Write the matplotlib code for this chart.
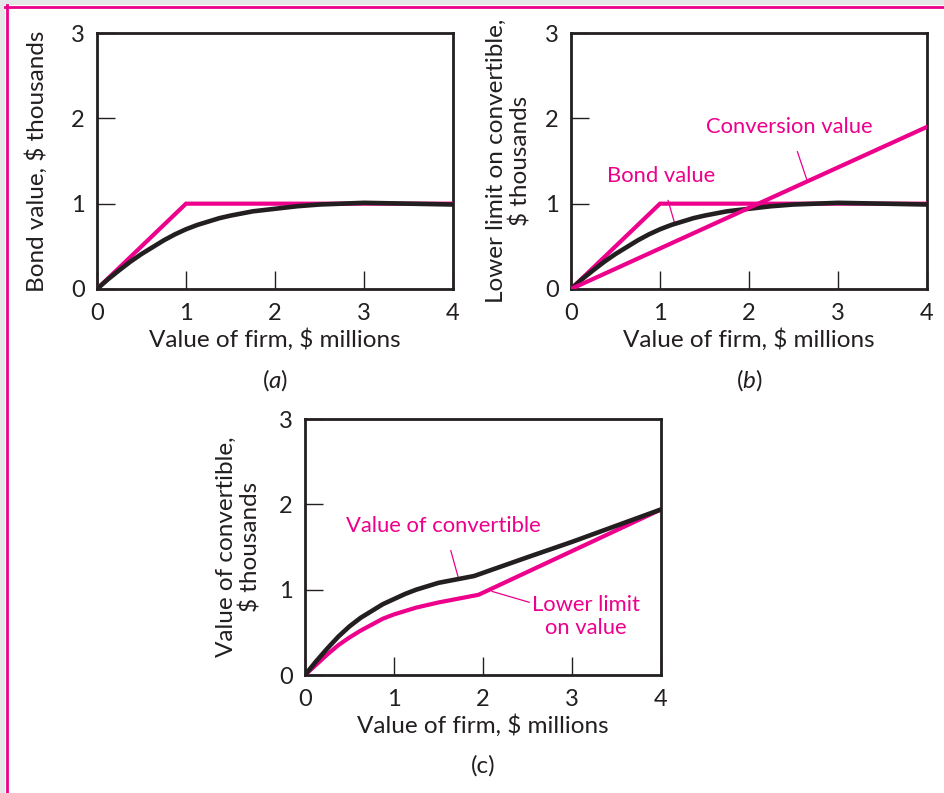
import matplotlib
matplotlib.use("Agg")
import matplotlib.pyplot as plt
from matplotlib.patches import Rectangle
from matplotlib.lines import Line2D

plt.rcParams["font.family"] = ["Lato", "DejaVu Sans"]
plt.rcParams["mathtext.fontset"] = "custom"
plt.rcParams["mathtext.rm"] = "Lato"
plt.rcParams["mathtext.it"] = "Lato:italic"

PINK = "#EC008C"
INK = "#231F20"
FS = 17.5      # axis labels
FS_TICK = 17
FS_NOTE = 15.8  # pink annotations

# ---- data ----
# bond value curve, panels (a) and (b)
bond_x = [0, 0.125, 0.25, 0.375, 0.5, 0.625, 0.75, 0.875, 1.0, 1.125, 1.25, 1.375, 1.5,
          1.75, 2.0, 2.25, 2.5, 2.75, 3.0, 3.5, 4.0]
bond_y = [0, 0.115, 0.22, 0.32, 0.41, 0.49, 0.57, 0.64, 0.70, 0.75, 0.79, 0.83, 0.86,
          0.91, 0.94, 0.97, 0.99, 1.00, 1.01, 1.00, 0.99]

# bond value of safe debt
safe_x = [0, 1, 4]
safe_y = [0, 1, 1]

# conversion value, panel (b)
conv_x = [0, 4]
conv_y = [0, 1.9]

# panel (c)
conv_val_x = [0, 0.125, 0.25, 0.375, 0.5, 0.625, 0.75, 0.875, 1.0, 1.125, 1.25, 1.5, 1.75,
              1.9, 2.5, 3.0, 3.5, 4.0]
conv_val_y = [0, 0.16, 0.31, 0.45, 0.57, 0.67, 0.75, 0.83, 0.89, 0.95, 1.00, 1.08, 1.13,
              1.16, 1.38, 1.56, 1.75, 1.94]
lower_x = [0, 0.125, 0.25, 0.375, 0.5, 0.625, 0.75, 0.875, 1.0, 1.25, 1.5, 1.75, 1.95, 4.0]
lower_y = [0, 0.12, 0.24, 0.35, 0.44, 0.52, 0.59, 0.66, 0.71, 0.79, 0.85, 0.90, 0.94, 1.94]

ticks = [0, 1, 2, 3, 4]
yticks = [0, 1, 2, 3]


def style(ax, ylabel, ylab_x, tag):
    ax.set_xlim(0, 4)
    ax.set_ylim(0, 3)
    ax.set_xticks(ticks)
    ax.set_yticks(yticks)
    for s in ax.spines.values():
        s.set_linewidth(2.0)
        s.set_color(INK)
    ax.tick_params(direction="in", length=13, width=1.0, color=INK,
                   labelsize=FS_TICK, labelcolor=INK)
    ax.tick_params(axis="x", pad=10)
    ax.tick_params(axis="y", pad=9)
    ax.set_xlabel("Value of firm, $ millions", fontsize=FS, color=INK)
    ax.xaxis.set_label_coords(0.5, -0.155)
    ax.set_ylabel(ylabel, fontsize=FS, color=INK, linespacing=1.15)
    ax.yaxis.set_label_coords(ylab_x, 0.5)
    ax.text(0.5, -0.355, tag, transform=ax.transAxes, ha="center", va="center",
            fontsize=FS, color=INK)


fig = plt.figure(figsize=(9.44, 7.93), dpi=100)

# outer frame
fig.add_artist(Rectangle((0, 1 - 5.3 / 793), 1, 5.3 / 793, transform=fig.transFigure,
                         color="#E6E7E9", lw=0))
fig.add_artist(Rectangle((0, 0), 5.3 / 944, 1, transform=fig.transFigure,
                         color="#E6E7E9", lw=0))
fig.add_artist(Line2D([6.6 / 944, 6.6 / 944], [0, 1 - 5.3 / 793], transform=fig.transFigure,
                      color=PINK, lw=2.0))
fig.add_artist(Line2D([5.3 / 944, 1], [1 - 6.6 / 793, 1 - 6.6 / 793], transform=fig.transFigure,
                      color=PINK, lw=2.0))

W = 356 / 944
H = 256 / 793
ax_a = fig.add_axes([97 / 944, (793 - 289) / 793, W, H])
ax_b = fig.add_axes([571 / 944, (793 - 289) / 793, W, H])
ax_c = fig.add_axes([305 / 944, (793 - 675) / 793, W, H])

# (a)
ax_a.plot(safe_x, safe_y, color=PINK, lw=3.0, solid_joinstyle="miter", zorder=3)
ax_a.plot(bond_x, bond_y, color=INK, lw=3.3, solid_capstyle="butt", zorder=4)
style(ax_a, "Bond value, $ thousands", -0.138, "($\\mathit{a}$)")

# (b)
ax_b.plot(safe_x, safe_y, color=PINK, lw=3.0, solid_joinstyle="miter", zorder=3)
ax_b.plot(bond_x, bond_y, color=INK, lw=3.3, solid_capstyle="butt", zorder=4)
ax_b.plot(conv_x, conv_y, color=PINK, lw=3.0, zorder=5)
ax_b.annotate("Bond value", xy=(1.17, 0.75), xytext=(1.01, 1.33), fontsize=FS_NOTE,
              color=PINK, ha="center", va="center",
              arrowprops=dict(arrowstyle="-", color=PINK, lw=0.9, shrinkA=9, shrinkB=0))
ax_b.annotate("Conversion value", xy=(2.65, 1.28), xytext=(2.45, 1.9), fontsize=FS_NOTE,
              color=PINK, ha="center", va="center",
              arrowprops=dict(arrowstyle="-", color=PINK, lw=0.9, shrinkA=9, shrinkB=0))
style(ax_b, "Lower limit on convertible,\n$ thousands", -0.11, "($\\mathit{b}$)")

# (c)
ax_c.plot(lower_x, lower_y, color=PINK, lw=3.0, zorder=3)
ax_c.plot(conv_val_x, conv_val_y, color=INK, lw=3.3, zorder=4)
ax_c.annotate("Value of convertible", xy=(1.72, 1.15), xytext=(1.56, 1.75), fontsize=FS_NOTE,
              color=PINK, ha="center", va="center",
              arrowprops=dict(arrowstyle="-", color=PINK, lw=0.9, shrinkA=9, shrinkB=0))
ax_c.annotate("Lower limit\non value", xy=(2.1, 0.98), xytext=(3.16, 0.69), fontsize=FS_NOTE,
              color=PINK, ha="center", va="center", linespacing=1.2,
              arrowprops=dict(arrowstyle="-", color=PINK, lw=0.9, shrinkA=0, shrinkB=0,
                              relpos=(0.0, 0.8)))
style(ax_c, "Value of convertible,\n$ thousands", -0.121, "(c)")

fig.savefig("out.png", dpi=100, facecolor="white")
